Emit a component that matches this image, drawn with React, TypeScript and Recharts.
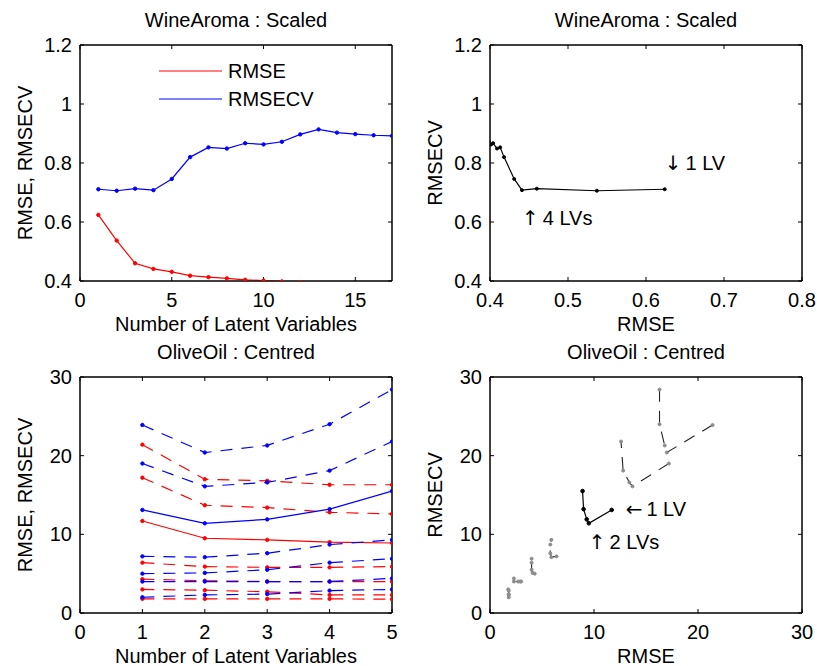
import { LineChart, Line, XAxis, YAxis, Legend, ReferenceDot, ReferenceArea } from "recharts";

// WineAroma (scaled) – errors per number of latent variables
const wineLatentVariables = [1, 2, 3, 4, 5, 6, 7, 8, 9, 10, 11, 12, 13, 14, 15, 16, 17];
const wineRmse = [0.624, 0.537, 0.46, 0.441, 0.431, 0.418, 0.413, 0.409, 0.404, 0.4015, 0.3985, 0.396, 0.394, 0.392, 0.39, 0.389, 0.388];
const wineRmsecv = [0.711, 0.706, 0.713, 0.708, 0.746, 0.82, 0.853, 0.849, 0.867, 0.863, 0.872, 0.897, 0.914, 0.903, 0.898, 0.894, 0.892];

// OliveOil (centred) – one row per response, index 2 is the highlighted one
const oliveLatentVariables = [1, 2, 3, 4, 5];
const oliveRmse = [
  [21.4, 17.0, 16.8, 16.3, 16.3],
  [17.2, 13.7, 13.4, 12.8, 12.6],
  [11.7, 9.5, 9.3, 9.0, 8.9],
  [6.4, 5.9, 5.8, 5.8, 5.9],
  [4.3, 4.1, 4.0, 4.0, 4.0],
  [3.0, 2.9, 2.7, 2.3, 2.3],
  [1.8, 1.8, 1.8, 1.8, 1.75],
];
const oliveRmsecv = [
  [23.9, 20.4, 21.3, 24.0, 28.4],
  [19.0, 16.1, 16.6, 18.1, 21.8],
  [13.1, 11.4, 11.9, 13.2, 15.5],
  [7.2, 7.1, 7.6, 8.7, 9.3],
  [5.0, 5.1, 5.5, 6.4, 6.9],
  [4.0, 4.0, 4.0, 4.0, 4.4],
  [2.0, 2.3, 2.4, 2.85, 3.0],
];
const oliveHighlight = 2;

const wineLvTicks = [0, 5, 10, 15];
const wineErrTicks = [0.4, 0.6, 0.8, 1, 1.2];
const wineRmseTicks = [0.4, 0.5, 0.6, 0.7, 0.8];
const oliveLvTicks = [0, 1, 2, 3, 4, 5];
const oliveErrTicks = [0, 10, 20, 30];

const FONT = '"Liberation Sans", Arial, Helvetica, sans-serif';
const ARROW_FONT = '"DejaVu Sans", "Liberation Sans", sans-serif';
const RED = "#ff0000";
const BLUE = "#0000ff";
const GREY = "#8c8c8c";
const DASH = "12 9";
const tickStyle = { fontSize: 20, fill: "#000", fontFamily: FONT };
const textProps = { fontSize: 20, fill: "#000", fontFamily: FONT };
const frameStroke = { stroke: "#000", strokeWidth: 1 };

const wineRows = wineLatentVariables.map((lv, i) => ({ x: lv, rmse: wineRmse[i], rmsecv: wineRmsecv[i] }));
const wineCurve = wineLatentVariables.map((_, i) => ({ x: wineRmse[i], y: wineRmsecv[i] }));

const oliveRows = oliveLatentVariables.map((lv, j) => {
  const row: Record<string, number> = { x: lv };
  oliveRmse.forEach((s, i) => (row["r" + i] = s[j]));
  oliveRmsecv.forEach((s, i) => (row["c" + i] = s[j]));
  return row;
});
const oliveCurves = oliveRmse.map((s, i) => s.map((v, j) => ({ x: v, y: oliveRmsecv[i][j] })));

// shared axis settings: MATLAB-like box with inward ticks
const axisBase: any = {
  type: "number",
  allowDataOverflow: true,
  tickSize: -4,
  interval: 0,
  stroke: "#000",
  strokeWidth: 1,
  axisLine: frameStroke,
  tickLine: frameStroke,
  tick: tickStyle,
};
const noLabel = () => "";
const xLabel = (value: string) => ({ value, position: "insideBottom", offset: 5, ...textProps });
const titleLabel = (value: string) => ({ value, position: "top", offset: 17, ...textProps });
const yLabel = (value: string) => ({
  value,
  position: "insideLeft",
  angle: -90,
  offset: 25,
  ...textProps,
  style: { textAnchor: "middle" },
});
const dotOf = (color: string, r = 1.7) => ({ r, fill: color, stroke: color, strokeWidth: 1 });

const renderLegend = (props: any) => (
  <div style={{ fontFamily: FONT }}>
    {(props.payload || [])
      .filter((p: any) => p.type !== "none")
      .map((p: any) => (
        <div key={p.value} style={{ display: "flex", alignItems: "center", height: 28 }}>
          <svg width={63} height={4} style={{ display: "block" }}>
            <line x1={0} x2={63} y1={2} y2={2} stroke={p.color} strokeWidth={1.2} />
          </svg>
          <span style={{ marginLeft: 6, fontSize: 20, lineHeight: "20px", color: "#000" }}>{p.value}</span>
        </div>
      ))}
  </div>
);

const note = (arrow: string, text: string, dx: number, dy: number) => (props: any) => {
  const vb = props.viewBox || {};
  return (
    <text x={vb.x + dx} y={vb.y + dy} dominantBaseline="central" {...textProps}>
      <tspan fontFamily={ARROW_FONT}>{arrow}</tspan>
      <tspan dx={4}>{text}</tspan>
    </text>
  );
};

// plot box outline drawn through the axis scales
const box = (x: number[], y: number[]) => (
  <ReferenceArea
    xAxisId="b"
    yAxisId="l"
    x1={x[0]}
    x2={x[1]}
    y1={y[0]}
    y2={y[1]}
    fill="none"
    fillOpacity={0}
    stroke="#000"
    strokeWidth={1}
    strokeOpacity={1}
    ifOverflow="visible"
  />
);

const margin = { top: 44, right: 14, bottom: 0, left: 0 };
const W = 407;
const H = 336;

export default function App() {
  return (
    <div
      style={{
        position: "absolute",
        left: 0,
        top: 0,
        width: 817,
        height: 666,
        overflow: "hidden",
        background: "#fff",
        fontFamily: FONT,
      }}
    >
      <div style={{ position: "absolute", left: 0, top: 0 }}>
        <LineChart width={W} height={H} data={wineRows} margin={margin}>
          <XAxis xAxisId="b" dataKey="x" domain={[0, 17]} ticks={wineLvTicks} height={55} tickMargin={16} {...axisBase} label={xLabel("Number of Latent Variables")} />
          <XAxis xAxisId="t" dataKey="x" orientation="top" domain={[0, 17]} ticks={wineLvTicks} height={1} tickFormatter={noLabel} {...axisBase} label={titleLabel("WineAroma : Scaled")} />
          <YAxis yAxisId="l" domain={[0.4, 1.2]} ticks={wineErrTicks} width={80} tickMargin={12} {...axisBase} label={yLabel("RMSE, RMSECV")} />
          <YAxis yAxisId="r" orientation="right" domain={[0.4, 1.2]} ticks={wineErrTicks} width={1} tickFormatter={noLabel} {...axisBase} />
          <Line xAxisId="t" yAxisId="r" dataKey="rmsecv" stroke="none" dot={false} legendType="none" isAnimationActive={false} />
          <Line
            xAxisId="b"
            yAxisId="l"
            type="linear"
            dataKey="rmse"
            name="RMSE"
            stroke={RED}
            strokeWidth={1.2}
            dot={dotOf(RED)}
            isAnimationActive={false}
          />
          <Line
            xAxisId="b"
            yAxisId="l"
            type="linear"
            dataKey="rmsecv"
            name="RMSECV"
            stroke={BLUE}
            strokeWidth={1.2}
            dot={dotOf(BLUE)}
            isAnimationActive={false}
          />
          {box([0, 17], [0.4, 1.2])}
          <Legend
            layout="vertical"
            align="center"
            verticalAlign="middle"
            content={renderLegend}
            wrapperStyle={{ left: 159, top: 57, width: 200 }}
          />
        </LineChart>
      </div>

      <div style={{ position: "absolute", left: 410, top: 0 }}>
        <LineChart width={W} height={H} data={wineCurve} margin={margin}>
          <XAxis xAxisId="b" dataKey="x" domain={[0.4, 0.8]} ticks={wineRmseTicks} height={55} tickMargin={16} {...axisBase} label={xLabel("RMSE")} />
          <XAxis xAxisId="t" dataKey="x" orientation="top" domain={[0.4, 0.8]} ticks={wineRmseTicks} height={1} tickFormatter={noLabel} {...axisBase} label={titleLabel("WineAroma : Scaled")} />
          <YAxis yAxisId="l" domain={[0.4, 1.2]} ticks={wineErrTicks} width={80} tickMargin={12} {...axisBase} label={yLabel("RMSECV")} />
          <YAxis yAxisId="r" orientation="right" domain={[0.4, 1.2]} ticks={wineErrTicks} width={1} tickFormatter={noLabel} {...axisBase} />
          <Line xAxisId="t" yAxisId="r" dataKey="y" stroke="none" dot={false} legendType="none" isAnimationActive={false} />
          <Line
            xAxisId="b"
            yAxisId="l"
            type="linear"
            dataKey="y"
            stroke="#000"
            strokeWidth={1.2}
            dot={dotOf("#000", 1.5)}
            isAnimationActive={false}
          />
          {box([0.4, 0.8], [0.4, 1.2])}
          <ReferenceDot xAxisId="b" yAxisId="l" x={wineRmse[0]} y={wineRmsecv[0]} r={0} label={{ content: note("↓", "1 LV", 0, -26) }} />
          <ReferenceDot xAxisId="b" yAxisId="l" x={wineRmse[3]} y={wineRmsecv[3]} r={0} label={{ content: note("↑", "4 LVs", 0, 28) }} />
        </LineChart>
      </div>

      <div style={{ position: "absolute", left: 0, top: 332 }}>
        <LineChart width={W} height={H} data={oliveRows} margin={margin}>
          <XAxis xAxisId="b" dataKey="x" domain={[0, 5]} ticks={oliveLvTicks} height={55} tickMargin={16} {...axisBase} label={xLabel("Number of Latent Variables")} />
          <XAxis xAxisId="t" dataKey="x" orientation="top" domain={[0, 5]} ticks={oliveLvTicks} height={1} tickFormatter={noLabel} {...axisBase} label={titleLabel("OliveOil : Centred")} />
          <YAxis yAxisId="l" domain={[0, 30]} ticks={oliveErrTicks} width={80} tickMargin={12} {...axisBase} label={yLabel("RMSE, RMSECV")} />
          <YAxis yAxisId="r" orientation="right" domain={[0, 30]} ticks={oliveErrTicks} width={1} tickFormatter={noLabel} {...axisBase} />
          <Line xAxisId="t" yAxisId="r" dataKey="c0" stroke="none" dot={false} legendType="none" isAnimationActive={false} />
          {oliveRmse.map((_, i) => (
            <Line
              key={"r" + i}
              xAxisId="b"
              yAxisId="l"
              type="linear"
              dataKey={"r" + i}
              stroke={RED}
              strokeWidth={1.2}
              strokeDasharray={i === oliveHighlight ? undefined : DASH}
              dot={dotOf(RED)}
              isAnimationActive={false}
            />
          ))}
          {oliveRmsecv.map((_, i) => (
            <Line
              key={"c" + i}
              xAxisId="b"
              yAxisId="l"
              type="linear"
              dataKey={"c" + i}
              stroke={BLUE}
              strokeWidth={1.2}
              strokeDasharray={i === oliveHighlight ? undefined : DASH}
              dot={dotOf(BLUE)}
              isAnimationActive={false}
            />
          ))}
          {box([0, 5], [0, 30])}
        </LineChart>
      </div>

      <div style={{ position: "absolute", left: 410, top: 332 }}>
        <LineChart width={W} height={H} data={oliveCurves[oliveHighlight]} margin={margin}>
          <XAxis xAxisId="b" dataKey="x" domain={[0, 30]} ticks={oliveErrTicks} height={55} tickMargin={16} {...axisBase} label={xLabel("RMSE")} />
          <XAxis xAxisId="t" dataKey="x" orientation="top" domain={[0, 30]} ticks={oliveErrTicks} height={1} tickFormatter={noLabel} {...axisBase} label={titleLabel("OliveOil : Centred")} />
          <YAxis yAxisId="l" domain={[0, 30]} ticks={oliveErrTicks} width={80} tickMargin={12} {...axisBase} label={yLabel("RMSECV")} />
          <YAxis yAxisId="r" orientation="right" domain={[0, 30]} ticks={oliveErrTicks} width={1} tickFormatter={noLabel} {...axisBase} />
          <Line xAxisId="t" yAxisId="r" dataKey="y" stroke="none" dot={false} legendType="none" isAnimationActive={false} />
          {oliveCurves.map((curve, i) =>
            i === oliveHighlight ? null : (
              <Line
                key={"g" + i}
                xAxisId="b"
                yAxisId="l"
                type="linear"
                data={curve}
                dataKey="y"
                stroke="#222"
                strokeWidth={1.1}
                strokeDasharray={DASH}
                dot={dotOf(GREY, 1.5)}
                isAnimationActive={false}
              />
            )
          )}
          <Line
            xAxisId="b"
            yAxisId="l"
            type="linear"
            dataKey="y"
            stroke="#000"
            strokeWidth={1.2}
            dot={dotOf("#000", 1.8)}
            isAnimationActive={false}
          />
          {box([0, 30], [0, 30])}
          <ReferenceDot
            xAxisId="b"
            yAxisId="l"
            x={oliveRmse[oliveHighlight][0]}
            y={oliveRmsecv[oliveHighlight][0]}
            r={0}
            label={{ content: note("←", "1 LV", 14, -1) }}
          />
          <ReferenceDot
            xAxisId="b"
            yAxisId="l"
            x={oliveRmse[oliveHighlight][1]}
            y={oliveRmsecv[oliveHighlight][1]}
            r={0}
            label={{ content: note("↑", "2 LVs", 0, 19) }}
          />
        </LineChart>
      </div>
    </div>
  );
}
